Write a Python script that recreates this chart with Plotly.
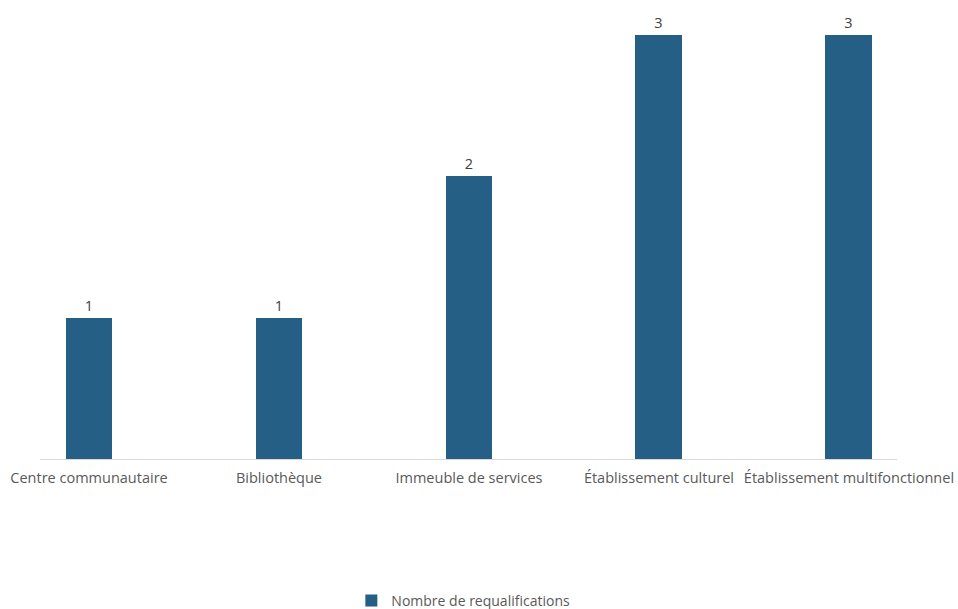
import plotly.graph_objects as go

categories = ["Centre communautaire", "Bibliothèque", "Immeuble de services",
              "Établissement culturel", "Établissement multifonctionnel"]
values = [1, 1, 2, 3, 3]
series_name = "Nombre de requalifications"

FONT = "Open Sans"

fig = go.Figure()
fig.add_trace(go.Bar(
    x=categories, y=values, name=series_name,
    marker=dict(color="#255f85", line=dict(width=0)),
    width=0.247,
    text=[str(v) for v in values], textposition="outside",
    textfont=dict(size=14.5, color="#404040", family=FONT),
    cliponaxis=False,
    showlegend=True,
))

fig.update_layout(
    width=958, height=609,
    margin=dict(l=40, r=61, t=20, b=150, autoexpand=False),
    paper_bgcolor="white", plot_bgcolor="white",
    font=dict(family=FONT, size=14.5, color="#595959"),
    bargap=0,
    xaxis=dict(
        range=[-0.258, 4.253], showgrid=False, zeroline=False,
        showline=True, linecolor="#d9d9d9", linewidth=1,
        ticks="", ticklabelstandoff=6, automargin=False,
        tickfont=dict(size=14.5, color="#595959", family=FONT),
    ),
    yaxis=dict(range=[0, 3.107], showgrid=False, zeroline=False,
               showticklabels=False, showline=False, automargin=False),
    legend=dict(orientation="h", x=0.494, xanchor="center",
                y=-0.323, yanchor="middle",
                font=dict(size=14, color="#595959", family=FONT),
                itemwidth=30),
)

fig.write_html("out.html", config={"displayModeBar": False},
               post_script="document.body.style.margin='0';")
